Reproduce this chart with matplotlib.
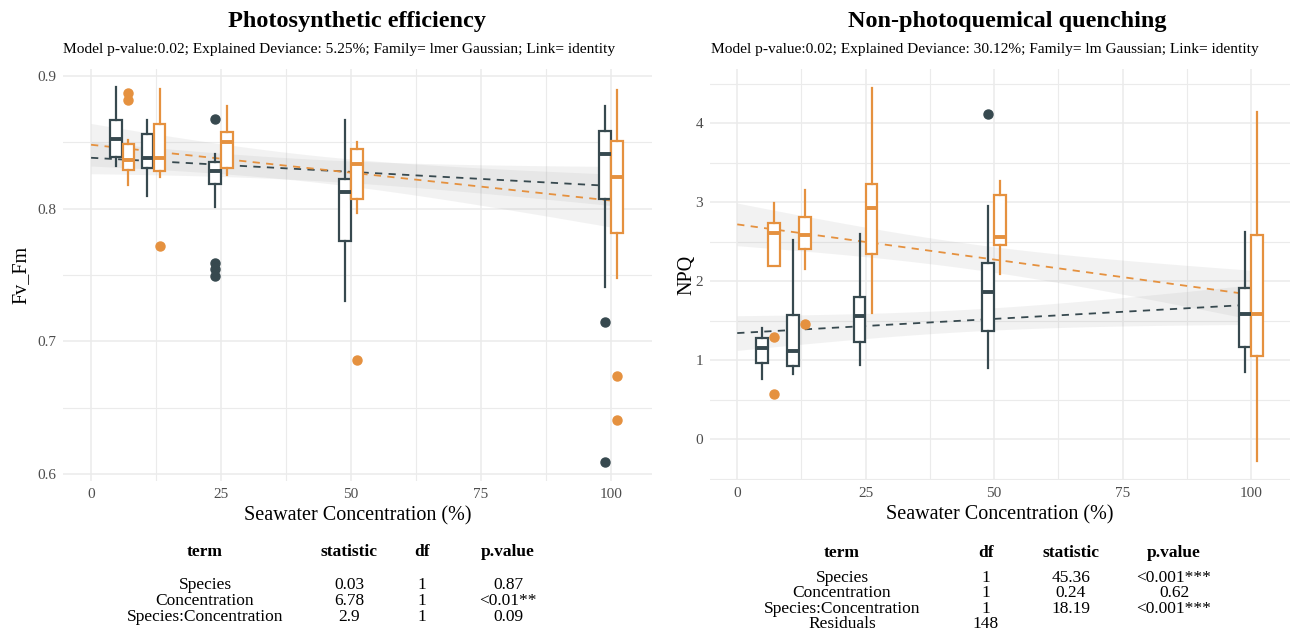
import numpy as np
import matplotlib.pyplot as plt

plt.rcParams['font.family'] = ['Liberation Serif', 'DejaVu Serif']

DARK = '#37494F'
ORANGE = '#E5913F'
W, H = 1312, 630

conc = [6, 12, 25, 50, 100]

# Fv/Fm box stats
fv_dark_lo = [0.8317, 0.8096, 0.8008, 0.7307, 0.7412]
fv_dark_q1 = [0.8387, 0.8302, 0.8188, 0.7757, 0.8075]
fv_dark_med = [0.8523, 0.8382, 0.8282, 0.8128, 0.8412]
fv_dark_q3 = [0.8668, 0.8558, 0.8352, 0.8226, 0.8586]
fv_dark_hi = [0.8915, 0.8668, 0.8412, 0.8663, 0.8769]
fv_dark_out = [[], [], [0.8671, 0.7589, 0.7543, 0.7493], [], [0.7144, 0.6093]]

fv_orange_lo = [0.8179, 0.8237, 0.8252, 0.7970, 0.7476]
fv_orange_q1 = [0.8292, 0.8279, 0.8304, 0.8075, 0.7815]
fv_orange_med = [0.8367, 0.8377, 0.8497, 0.8332, 0.8234]
fv_orange_q3 = [0.8483, 0.8633, 0.8578, 0.8450, 0.8505]
fv_orange_hi = [0.8513, 0.8902, 0.8769, 0.8503, 0.8890]
fv_orange_out = [[0.887, 0.882], [0.7721], [], [0.686], [0.6739, 0.6408]]

# NPQ box stats
npq_dark_lo = [0.764, 0.828, 0.933, 0.899, 0.848]
npq_dark_q1 = [0.967, 0.929, 1.228, 1.363, 1.165]
npq_dark_med = [1.148, 1.110, 1.562, 1.857, 1.587]
npq_dark_q3 = [1.279, 1.575, 1.798, 2.233, 1.911]
npq_dark_hi = [1.405, 2.524, 2.591, 2.955, 2.620]
npq_dark_out = [[], [], [], [4.119], []]

npq_orange_lo = [2.186, 2.148, 1.600, 2.093, -0.282]
npq_orange_q1 = [2.186, 2.410, 2.342, 2.461, 1.051]
npq_orange_med = [2.608, 2.587, 2.924, 2.553, 1.587]
npq_orange_q3 = [2.734, 2.815, 3.228, 3.089, 2.578]
npq_orange_hi = [2.992, 3.157, 4.448, 3.266, 4.139]
npq_orange_out = [[1.287, 0.574], [1.461], [], [], []]

# linear fits: value at 0% and 100%; CI half width at 0%, at mean x, mean x
fv_dark_fit = (0.8382, 0.8170)
fv_orange_fit = (0.8480, 0.8060)
fv_dark_ci = (0.012, 0.008, 42)
fv_orange_ci = (0.016, 0.010, 42)
npq_dark_fit = (1.342, 1.701)
npq_orange_fit = (2.718, 1.828)
npq_dark_ci = (0.22, 0.14, 45)
npq_orange_ci = (0.27, 0.16, 45)

# anova tables
fv_terms = ['Species', 'Concentration', 'Species:Concentration']
fv_stat = ['0.03', '6.78', '2.9']
fv_df = ['1', '1', '1']
fv_p = ['0.87', '<0.01**', '0.09']

npq_terms = ['Species', 'Concentration', 'Species:Concentration', 'Residuals']
npq_df = ['1', '1', '1', '148']
npq_stat = ['45.36', '0.24', '18.19', '']
npq_p = ['<0.001***', '0.62', '<0.001***', '']

DODGE = 1.17
BOXW = 2.2


def draw_boxes(ax, lo, q1, med, q3, hi, out, pos, color):
    stats = []
    for i in range(len(pos)):
        stats.append(dict(whislo=lo[i], q1=q1[i], med=med[i], q3=q3[i],
                          whishi=hi[i], fliers=out[i]))
    ax.bxp(stats, positions=pos, widths=BOXW, showcaps=False, patch_artist=True,
           boxprops=dict(facecolor='white', edgecolor=color, linewidth=1.6),
           whiskerprops=dict(color=color, linewidth=1.6),
           medianprops=dict(color=color, linewidth=2.8, solid_capstyle='butt'),
           flierprops=dict(marker='o', markerfacecolor=color, markeredgecolor=color,
                           markersize=6.5, linestyle='none'),
           manage_ticks=False, zorder=4)


def draw_fit(ax, fit, ci, color):
    x = np.linspace(0, 100, 200)
    y = fit[0] + (fit[1] - fit[0]) * x / 100
    h0, hm, xm = ci
    b = (h0 ** 2 - hm ** 2) / xm ** 2
    hw = np.sqrt(hm ** 2 + b * (x - xm) ** 2)
    ax.fill_between(x, y - hw, y + hw, color='#999999', alpha=0.12, lw=0, zorder=2)
    ax.plot(x, y, color=color, lw=1.3, ls=(0, (4, 3.5)), zorder=3)


def style(ax, xlim, ylim, yticks, yminor):
    ax.set_xlim(*xlim)
    ax.set_ylim(*ylim)
    ax.set_xticks([0, 25, 50, 75, 100])
    ax.set_xticks([12.5, 37.5, 62.5, 87.5], minor=True)
    ax.set_yticks(yticks)
    ax.set_yticks(yminor, minor=True)
    ax.grid(which='major', color='#EBEBEB', lw=1.1)
    ax.grid(which='minor', color='#EBEBEB', lw=0.8)
    ax.set_axisbelow(True)
    for s in ax.spines.values():
        s.set_visible(False)
    ax.tick_params(which='both', length=0, labelsize=11, labelcolor='#4D4D4D', pad=5)
    ax.set_xlabel('Seawater Concentration (%)', fontsize=14.5, labelpad=4)


def ftext(x, y, s, **kw):
    fig.text(x / W, 1 - y / H, s, ha=kw.pop('ha', 'center'), va=kw.pop('va', 'center'), **kw)


fig = plt.figure(figsize=(W / 100, H / 100), dpi=100)
ax1 = fig.add_axes([63 / W, 1 - 481 / H, (652 - 63) / W, (481 - 69) / H])
ax2 = fig.add_axes([710 / W, 1 - 480 / H, (1290 - 710) / W, (480 - 69) / H])

pos_d = [c - DODGE for c in conc]
pos_o = [c + DODGE for c in conc]

draw_fit(ax1, fv_dark_fit, fv_dark_ci, DARK)
draw_fit(ax1, fv_orange_fit, fv_orange_ci, ORANGE)
draw_boxes(ax1, fv_dark_lo, fv_dark_q1, fv_dark_med, fv_dark_q3, fv_dark_hi, fv_dark_out, pos_d, DARK)
draw_boxes(ax1, fv_orange_lo, fv_orange_q1, fv_orange_med, fv_orange_q3, fv_orange_hi, fv_orange_out, pos_o, ORANGE)
style(ax1, (-5.4, 107.9), (0.595, 0.905), [0.6, 0.7, 0.8, 0.9], [0.65, 0.75, 0.85])
ax1.set_yticklabels(['0.6', '0.7', '0.8', '0.9'])
ax1.set_ylabel('Fv_Fm', fontsize=14.5, labelpad=5)

draw_fit(ax2, npq_dark_fit, npq_dark_ci, DARK)
draw_fit(ax2, npq_orange_fit, npq_orange_ci, ORANGE)
draw_boxes(ax2, npq_dark_lo, npq_dark_q1, npq_dark_med, npq_dark_q3, npq_dark_hi, npq_dark_out, pos_d, DARK)
draw_boxes(ax2, npq_orange_lo, npq_orange_q1, npq_orange_med, npq_orange_q3, npq_orange_hi, npq_orange_out, pos_o, ORANGE)
style(ax2, (-5.3, 107.6), (-0.518, 4.685), [0, 1, 2, 3, 4], [-0.5, 0.5, 1.5, 2.5, 3.5, 4.5])
ax2.set_ylabel('NPQ', fontsize=14.5, labelpad=-1)

# titles
ftext(357, 22, 'Photosynthetic efficiency', fontsize=17.5, fontweight='bold')
ftext(63, 50, 'Model p-value:0.02; Explained Deviance: 5.25%; Family= lmer Gaussian; Link= identity',
      ha='left', fontsize=11.1)
ftext(1007, 22, 'Non-photoquemical quenching', fontsize=17.5, fontweight='bold')
ftext(711, 50, 'Model p-value:0.02; Explained Deviance: 30.12%; Family= lm Gaussian; Link= identity',
      ha='left', fontsize=11.1)

# left table
cols = [(205, 'term', fv_terms), (349, 'statistic', fv_stat), (422, 'df', fv_df), (508, 'p.value', fv_p)]
for x, head, vals in cols:
    ftext(x, 552, head, fontsize=12.5, fontweight='bold')
    for i, v in enumerate(vals):
        ftext(x, 585 + i * 15.8, v, fontsize=12.5)

# right table
cols = [(842, 'term', npq_terms), (986, 'df', npq_df), (1071, 'statistic', npq_stat), (1174, 'p.value', npq_p)]
for x, head, vals in cols:
    ftext(x, 553, head, fontsize=12.5, fontweight='bold')
    for i, v in enumerate(vals):
        ftext(x, 578 + i * 15.3, v, fontsize=12.5)

fig.savefig('out.png', dpi=100)
